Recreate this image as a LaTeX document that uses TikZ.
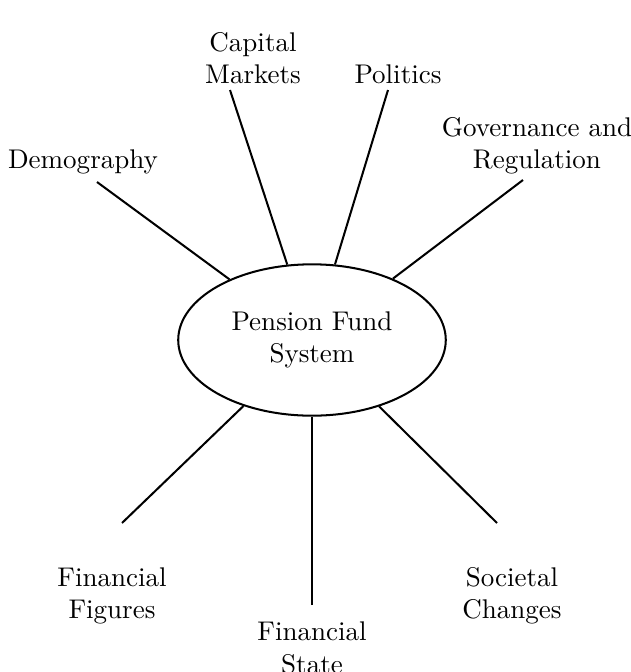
\documentclass[tikz,border=0pt]{standalone}
\usetikzlibrary{shapes.geometric}

\begin{document}
\begin{tikzpicture}[x=0.37pt, y=-0.37pt, line width=0.75pt,
		factor/.style={align=center, inner sep=0pt},
		core/.style={draw, ellipse, align=center, minimum width=99pt, minimum height=56pt, inner sep=0pt}]
			%%%%% START %%%%%
			\useasboundingbox (0, 0) rectangle (631, 672);
			
			\node[core] (pfs) at (312, 340) {Pension Fund\\System};
			
			\node[factor] (dem) at (83, 162) {Demography};
			\node[factor] (cap) at (253, 58) {Capital\\Markets};
			\node[factor] (pol) at (398, 74) {Politics};
			\node[factor] (gov) at (537, 146) {Governance and\\Regulation};
			\node[factor] (fig) at (112, 596) {Financial\\Figures};
			\node[factor] (sta) at (312, 648) {Financial\\State};
			\node[factor] (soc) at (512, 596) {Societal\\Changes};
			
			\coordinate (demEnd) at (97, 182);
			\coordinate (capEnd) at (230, 90);
			\coordinate (polEnd) at (388, 90);
			\coordinate (govEnd) at (523, 180);
			\coordinate (figEnd) at (122, 523);
			\coordinate (staEnd) at (312, 605);
			\coordinate (socEnd) at (497, 523);
			
			\draw (demEnd) -- (pfs);
			\draw (capEnd) -- (pfs);
			\draw (polEnd) -- (pfs);
			\draw (govEnd) -- (pfs);
			\draw (figEnd) -- (pfs);
			\draw (staEnd) -- (pfs);
			\draw (socEnd) -- (pfs);
			%%%%% END %%%%%
\end{tikzpicture}
\end{document}
